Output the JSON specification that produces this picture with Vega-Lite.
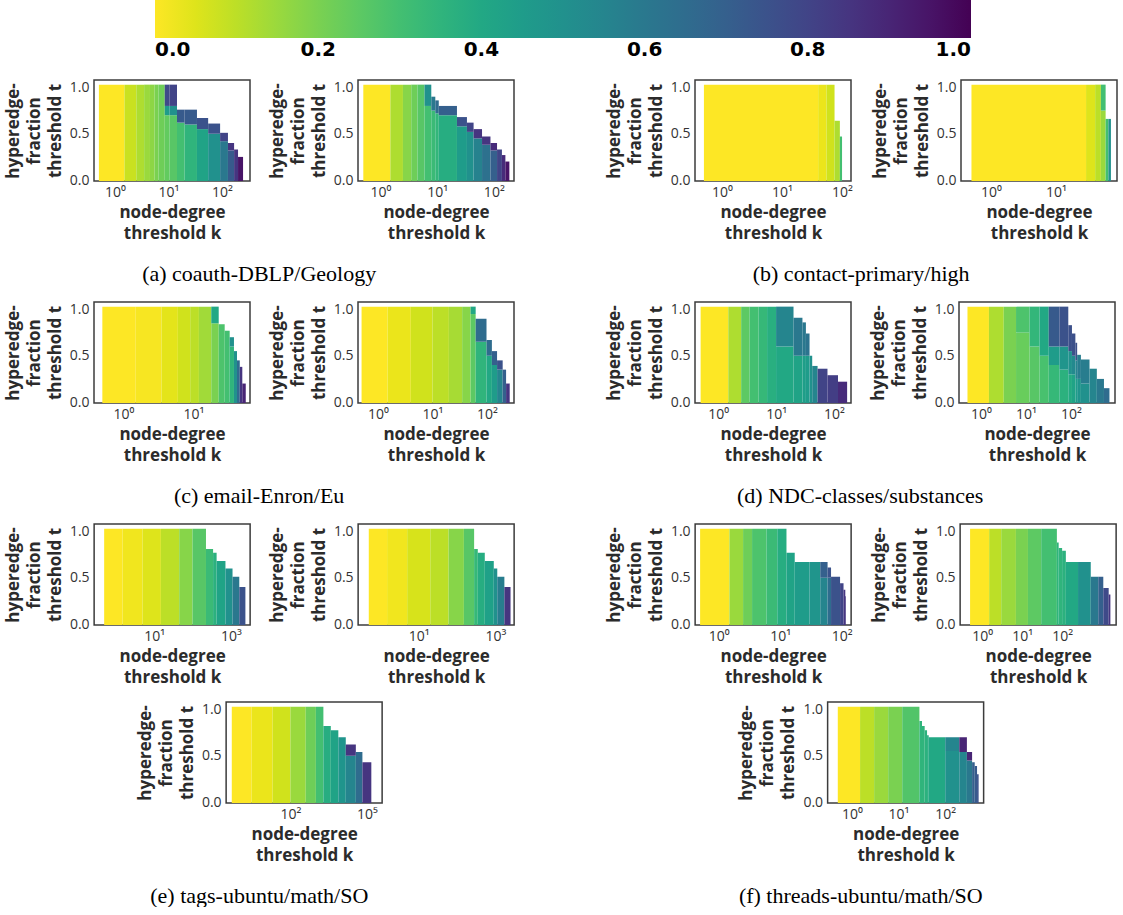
{
"$schema":"https://vega.github.io/schema/vega-lite/v6.json",
"padding":{"left":3,"top":0,"right":0,"bottom":0},
"background":"white",
"datasets":{
"a1":[
{"k0":0.5,"k1":1.5,"t0":-0.01,"t1":1.03,"v":0},
{"k0":1.5,"k1":2.5,"t0":-0.01,"t1":1.03,"v":0.08},
{"k0":2.5,"k1":3.5,"t0":-0.01,"t1":1.03,"v":0.12},
{"k0":3.5,"k1":4.5,"t0":-0.01,"t1":1.03,"v":0.15},
{"k0":4.5,"k1":5.5,"t0":-0.01,"t1":1.03,"v":0.17},
{"k0":5.5,"k1":6.5,"t0":-0.01,"t1":1.03,"v":0.2},
{"k0":6.5,"k1":8.5,"t0":-0.01,"t1":1.03,"v":0.22},
{"k0":8.5,"k1":10.5,"t0":-0.01,"t1":0.7,"v":0.24},
{"k0":8.5,"k1":10.5,"t0":0.7,"t1":0.8,"v":0.45},
{"k0":8.5,"k1":10.5,"t0":0.8,"t1":1.03,"v":0.78},
{"k0":10.5,"k1":14.4,"t0":-0.01,"t1":0.7,"v":0.26},
{"k0":10.5,"k1":14.4,"t0":0.7,"t1":0.8,"v":0.5},
{"k0":10.5,"k1":14.4,"t0":0.8,"t1":1.03,"v":0.8},
{"k0":14.4,"k1":20,"t0":-0.01,"t1":0.62,"v":0.3},
{"k0":14.4,"k1":20,"t0":0.62,"t1":0.76,"v":0.72},
{"k0":20,"k1":34,"t0":-0.01,"t1":0.6,"v":0.35},
{"k0":20,"k1":34,"t0":0.6,"t1":0.76,"v":0.72},
{"k0":34,"k1":55,"t0":-0.01,"t1":0.55,"v":0.42},
{"k0":34,"k1":55,"t0":0.55,"t1":0.67,"v":0.75},
{"k0":55,"k1":92,"t0":-0.01,"t1":0.5,"v":0.5},
{"k0":55,"k1":92,"t0":0.5,"t1":0.61,"v":0.75},
{"k0":92,"k1":129,"t0":-0.01,"t1":0.42,"v":0.6},
{"k0":92,"k1":129,"t0":0.42,"t1":0.51,"v":0.8},
{"k0":129,"k1":168,"t0":-0.01,"t1":0.32,"v":0.72},
{"k0":129,"k1":168,"t0":0.32,"t1":0.4,"v":0.85},
{"k0":168,"k1":199,"t0":-0.01,"t1":0.33,"v":0.85},
{"k0":199,"k1":247,"t0":-0.01,"t1":0.25,"v":0.95}
],
"a2":[
{"k0":0.5,"k1":1.5,"t0":-0.01,"t1":1.03,"v":0},
{"k0":1.5,"k1":2.5,"t0":-0.01,"t1":1.03,"v":0.12},
{"k0":2.5,"k1":3.5,"t0":-0.01,"t1":1.03,"v":0.18},
{"k0":3.5,"k1":4.5,"t0":-0.01,"t1":1.03,"v":0.22},
{"k0":4.5,"k1":6,"t0":-0.01,"t1":1.03,"v":0.26},
{"k0":6,"k1":7.9,"t0":-0.01,"t1":0.8,"v":0.3},
{"k0":6,"k1":7.9,"t0":0.8,"t1":1.03,"v":0.5},
{"k0":7.9,"k1":9.3,"t0":-0.01,"t1":0.75,"v":0.32},
{"k0":7.9,"k1":9.3,"t0":0.75,"t1":0.9,"v":0.6},
{"k0":9.3,"k1":10.7,"t0":-0.01,"t1":0.72,"v":0.34},
{"k0":9.3,"k1":10.7,"t0":0.72,"t1":0.86,"v":0.65},
{"k0":10.7,"k1":22.4,"t0":-0.01,"t1":0.7,"v":0.38},
{"k0":10.7,"k1":22.4,"t0":0.7,"t1":0.8,"v":0.7},
{"k0":22.4,"k1":33.6,"t0":-0.01,"t1":0.58,"v":0.45},
{"k0":22.4,"k1":33.6,"t0":0.58,"t1":0.68,"v":0.75},
{"k0":33.6,"k1":44,"t0":-0.01,"t1":0.52,"v":0.5},
{"k0":33.6,"k1":44,"t0":0.52,"t1":0.62,"v":0.8},
{"k0":44,"k1":62,"t0":-0.01,"t1":0.45,"v":0.56},
{"k0":44,"k1":62,"t0":0.45,"t1":0.55,"v":0.85},
{"k0":62,"k1":87.3,"t0":-0.01,"t1":0.38,"v":0.63},
{"k0":62,"k1":87.3,"t0":0.38,"t1":0.47,"v":0.85},
{"k0":87.3,"k1":114,"t0":-0.01,"t1":0.32,"v":0.7},
{"k0":87.3,"k1":114,"t0":0.32,"t1":0.4,"v":0.88},
{"k0":114,"k1":139,"t0":-0.01,"t1":0.33,"v":0.8},
{"k0":139,"k1":160,"t0":-0.01,"t1":0.27,"v":0.88},
{"k0":160,"k1":188,"t0":-0.01,"t1":0.2,"v":0.95}
],
"b1":[
{"k0":0.5,"k1":40,"t0":-0.01,"t1":1.03,"v":0},
{"k0":40,"k1":55,"t0":-0.01,"t1":1.03,"v":0.03},
{"k0":55,"k1":75,"t0":-0.01,"t1":1.03,"v":0.07},
{"k0":75,"k1":92,"t0":-0.01,"t1":0.64,"v":0.12},
{"k0":92,"k1":100,"t0":-0.01,"t1":0.47,"v":0.3}
],
"b2":[
{"k0":0.5,"k1":29,"t0":-0.01,"t1":1.03,"v":0},
{"k0":29,"k1":40,"t0":-0.01,"t1":1.03,"v":0.05},
{"k0":40,"k1":49,"t0":-0.01,"t1":1.03,"v":0.1},
{"k0":49,"k1":58,"t0":-0.01,"t1":0.75,"v":0.15},
{"k0":49,"k1":58,"t0":0.75,"t1":1.03,"v":0.3},
{"k0":58,"k1":64,"t0":-0.01,"t1":0.66,"v":0.3},
{"k0":64,"k1":70,"t0":-0.01,"t1":0.66,"v":0.5}
],
"c1":[
{"k0":0.5,"k1":1.5,"t0":-0.01,"t1":1.03,"v":0},
{"k0":1.5,"k1":3.5,"t0":-0.01,"t1":1.03,"v":0.01},
{"k0":3.5,"k1":6,"t0":-0.01,"t1":1.03,"v":0.04},
{"k0":6,"k1":9,"t0":-0.01,"t1":1.03,"v":0.07},
{"k0":9,"k1":12,"t0":-0.01,"t1":1.03,"v":0.1},
{"k0":12,"k1":18,"t0":-0.01,"t1":1.03,"v":0.14},
{"k0":18,"k1":23,"t0":-0.01,"t1":0.85,"v":0.2},
{"k0":18,"k1":23,"t0":0.85,"t1":1.03,"v":0.4},
{"k0":23,"k1":28,"t0":-0.01,"t1":0.84,"v":0.28},
{"k0":28,"k1":33,"t0":-0.01,"t1":0.77,"v":0.3},
{"k0":33,"k1":38,"t0":-0.01,"t1":0.6,"v":0.35},
{"k0":33,"k1":38,"t0":0.6,"t1":0.7,"v":0.5},
{"k0":38,"k1":42,"t0":-0.01,"t1":0.55,"v":0.5},
{"k0":42,"k1":46,"t0":-0.01,"t1":0.45,"v":0.65},
{"k0":46,"k1":50,"t0":-0.01,"t1":0.38,"v":0.85},
{"k0":50,"k1":56,"t0":-0.01,"t1":0.2,"v":0.9}
],
"c2":[
{"k0":0.5,"k1":1.5,"t0":-0.01,"t1":1.03,"v":0},
{"k0":1.5,"k1":4,"t0":-0.01,"t1":1.03,"v":0.03},
{"k0":4,"k1":10,"t0":-0.01,"t1":1.03,"v":0.07},
{"k0":10,"k1":20,"t0":-0.01,"t1":1.03,"v":0.1},
{"k0":20,"k1":35,"t0":-0.01,"t1":1.03,"v":0.13},
{"k0":35,"k1":50,"t0":-0.01,"t1":1.03,"v":0.18},
{"k0":50,"k1":62,"t0":-0.01,"t1":0.95,"v":0.25},
{"k0":50,"k1":62,"t0":0.95,"t1":1.03,"v":0.4},
{"k0":62,"k1":98,"t0":-0.01,"t1":0.65,"v":0.35},
{"k0":62,"k1":98,"t0":0.65,"t1":0.9,"v":0.65},
{"k0":98,"k1":123,"t0":-0.01,"t1":0.5,"v":0.4},
{"k0":98,"k1":123,"t0":0.5,"t1":0.67,"v":0.65},
{"k0":123,"k1":153,"t0":-0.01,"t1":0.4,"v":0.45},
{"k0":123,"k1":153,"t0":0.4,"t1":0.55,"v":0.7},
{"k0":153,"k1":194,"t0":-0.01,"t1":0.35,"v":0.55},
{"k0":153,"k1":194,"t0":0.35,"t1":0.45,"v":0.75},
{"k0":194,"k1":224,"t0":-0.01,"t1":0.35,"v":0.7},
{"k0":224,"k1":261,"t0":-0.01,"t1":0.2,"v":0.85}
],
"d1":[
{"k0":0.5,"k1":1.5,"t0":-0.01,"t1":1.03,"v":0},
{"k0":1.5,"k1":2.5,"t0":-0.01,"t1":1.03,"v":0.12},
{"k0":2.5,"k1":3.5,"t0":-0.01,"t1":1.03,"v":0.25},
{"k0":3.5,"k1":5,"t0":-0.01,"t1":1.03,"v":0.3},
{"k0":5,"k1":7,"t0":-0.01,"t1":1.03,"v":0.33},
{"k0":7,"k1":10,"t0":-0.01,"t1":1.03,"v":0.37},
{"k0":10,"k1":20,"t0":-0.01,"t1":0.6,"v":0.4},
{"k0":10,"k1":20,"t0":0.6,"t1":1.03,"v":0.55},
{"k0":20,"k1":28.5,"t0":-0.01,"t1":0.5,"v":0.42},
{"k0":20,"k1":28.5,"t0":0.5,"t1":0.91,"v":0.6},
{"k0":28.5,"k1":32.7,"t0":-0.01,"t1":0.5,"v":0.44},
{"k0":28.5,"k1":32.7,"t0":0.5,"t1":0.86,"v":0.6},
{"k0":32.7,"k1":37.8,"t0":-0.01,"t1":0.5,"v":0.45},
{"k0":32.7,"k1":37.8,"t0":0.5,"t1":0.74,"v":0.62},
{"k0":37.8,"k1":42,"t0":-0.01,"t1":0.5,"v":0.5},
{"k0":42,"k1":52,"t0":-0.01,"t1":0.39,"v":0.55},
{"k0":52,"k1":77,"t0":-0.01,"t1":0.36,"v":0.8},
{"k0":77,"k1":117,"t0":-0.01,"t1":0.29,"v":0.82},
{"k0":117,"k1":168,"t0":-0.01,"t1":0.22,"v":0.88}
],
"d2":[
{"k0":0.5,"k1":1.5,"t0":-0.01,"t1":1.03,"v":0},
{"k0":1.5,"k1":3.2,"t0":-0.01,"t1":1.03,"v":0.12},
{"k0":3.2,"k1":6,"t0":-0.01,"t1":1.03,"v":0.2},
{"k0":6,"k1":12,"t0":-0.01,"t1":0.75,"v":0.23},
{"k0":6,"k1":12,"t0":0.75,"t1":1.03,"v":0.28},
{"k0":12,"k1":20,"t0":-0.01,"t1":0.6,"v":0.26},
{"k0":12,"k1":20,"t0":0.6,"t1":1.03,"v":0.34},
{"k0":20,"k1":32,"t0":-0.01,"t1":0.5,"v":0.29},
{"k0":20,"k1":32,"t0":0.5,"t1":1.03,"v":0.4},
{"k0":32,"k1":55,"t0":-0.01,"t1":0.4,"v":0.33},
{"k0":32,"k1":55,"t0":0.4,"t1":0.6,"v":0.45},
{"k0":32,"k1":55,"t0":0.6,"t1":1.03,"v":0.72},
{"k0":55,"k1":87,"t0":-0.01,"t1":0.35,"v":0.36},
{"k0":55,"k1":87,"t0":0.35,"t1":0.6,"v":0.48},
{"k0":55,"k1":87,"t0":0.6,"t1":1.03,"v":0.75},
{"k0":87,"k1":105,"t0":-0.01,"t1":0.3,"v":0.39},
{"k0":87,"k1":105,"t0":0.3,"t1":0.55,"v":0.5},
{"k0":87,"k1":105,"t0":0.55,"t1":0.83,"v":0.76},
{"k0":105,"k1":125,"t0":-0.01,"t1":0.3,"v":0.42},
{"k0":105,"k1":125,"t0":0.3,"t1":0.5,"v":0.53},
{"k0":105,"k1":125,"t0":0.5,"t1":0.74,"v":0.76},
{"k0":125,"k1":137,"t0":-0.01,"t1":0.25,"v":0.45},
{"k0":125,"k1":137,"t0":0.25,"t1":0.45,"v":0.55},
{"k0":125,"k1":137,"t0":0.45,"t1":0.64,"v":0.76},
{"k0":137,"k1":166,"t0":-0.01,"t1":0.25,"v":0.48},
{"k0":137,"k1":166,"t0":0.25,"t1":0.51,"v":0.58},
{"k0":166,"k1":258,"t0":-0.01,"t1":0.2,"v":0.5},
{"k0":166,"k1":258,"t0":0.2,"t1":0.46,"v":0.58},
{"k0":258,"k1":375,"t0":-0.01,"t1":0.36,"v":0.55},
{"k0":375,"k1":540,"t0":-0.01,"t1":0.25,"v":0.6},
{"k0":540,"k1":715,"t0":-0.01,"t1":0.15,"v":0.65}
],
"e1":[
{"k0":0.5,"k1":1.5,"t0":-0.01,"t1":1.03,"v":0},
{"k0":1.5,"k1":5,"t0":-0.01,"t1":1.03,"v":0.02},
{"k0":5,"k1":15,"t0":-0.01,"t1":1.03,"v":0.05},
{"k0":15,"k1":45,"t0":-0.01,"t1":1.03,"v":0.1},
{"k0":45,"k1":100,"t0":-0.01,"t1":1.03,"v":0.18},
{"k0":100,"k1":224,"t0":-0.01,"t1":1.03,"v":0.26},
{"k0":224,"k1":343,"t0":-0.01,"t1":0.81,"v":0.32},
{"k0":343,"k1":424,"t0":-0.01,"t1":0.77,"v":0.36},
{"k0":424,"k1":720,"t0":-0.01,"t1":0.68,"v":0.42},
{"k0":720,"k1":1100,"t0":-0.01,"t1":0.6,"v":0.5},
{"k0":1100,"k1":1650,"t0":-0.01,"t1":0.51,"v":0.6},
{"k0":1650,"k1":2380,"t0":-0.01,"t1":0.4,"v":0.75}
],
"e2":[
{"k0":0.5,"k1":1.5,"t0":-0.01,"t1":1.03,"v":0},
{"k0":1.5,"k1":5,"t0":-0.01,"t1":1.03,"v":0.02},
{"k0":5,"k1":20,"t0":-0.01,"t1":1.03,"v":0.06},
{"k0":20,"k1":60,"t0":-0.01,"t1":1.03,"v":0.1},
{"k0":60,"k1":150,"t0":-0.01,"t1":1.03,"v":0.18},
{"k0":150,"k1":277,"t0":-0.01,"t1":1.03,"v":0.26},
{"k0":277,"k1":345,"t0":-0.01,"t1":0.81,"v":0.33},
{"k0":345,"k1":525,"t0":-0.01,"t1":0.77,"v":0.38},
{"k0":525,"k1":900,"t0":-0.01,"t1":0.68,"v":0.43},
{"k0":900,"k1":1110,"t0":-0.01,"t1":0.6,"v":0.5},
{"k0":1110,"k1":1700,"t0":-0.01,"t1":0.51,"v":0.58},
{"k0":1700,"k1":2460,"t0":-0.01,"t1":0.4,"v":0.85}
],
"e3":[
{"k0":0.5,"k1":3,"t0":-0.01,"t1":1.03,"v":0},
{"k0":3,"k1":20,"t0":-0.01,"t1":1.03,"v":0.03},
{"k0":20,"k1":100,"t0":-0.01,"t1":1.03,"v":0.07},
{"k0":100,"k1":400,"t0":-0.01,"t1":1.03,"v":0.15},
{"k0":400,"k1":1000,"t0":-0.01,"t1":1.03,"v":0.22},
{"k0":1000,"k1":1970,"t0":-0.01,"t1":1.03,"v":0.3},
{"k0":1970,"k1":3850,"t0":-0.01,"t1":0.82,"v":0.38},
{"k0":3850,"k1":7600,"t0":-0.01,"t1":0.775,"v":0.42},
{"k0":7600,"k1":14900,"t0":-0.01,"t1":0.7,"v":0.48},
{"k0":14900,"k1":37000,"t0":-0.01,"t1":0.5,"v":0.55},
{"k0":14900,"k1":37000,"t0":0.5,"t1":0.62,"v":0.85},
{"k0":37000,"k1":67000,"t0":-0.01,"t1":0.54,"v":0.65},
{"k0":67000,"k1":150000,"t0":-0.01,"t1":0.43,"v":0.85}
],
"f1":[
{"k0":0.5,"k1":1.5,"t0":-0.01,"t1":1.03,"v":0},
{"k0":1.5,"k1":2.5,"t0":-0.01,"t1":1.03,"v":0.15},
{"k0":2.5,"k1":3.5,"t0":-0.01,"t1":1.03,"v":0.22},
{"k0":3.5,"k1":6,"t0":-0.01,"t1":1.03,"v":0.28},
{"k0":6,"k1":9,"t0":-0.01,"t1":1.03,"v":0.32},
{"k0":9,"k1":12.7,"t0":-0.01,"t1":1.03,"v":0.38},
{"k0":12.7,"k1":17.3,"t0":-0.01,"t1":0.77,"v":0.42},
{"k0":17.3,"k1":30,"t0":-0.01,"t1":0.67,"v":0.45},
{"k0":30,"k1":45,"t0":-0.01,"t1":0.67,"v":0.48},
{"k0":45,"k1":59.2,"t0":-0.01,"t1":0.5,"v":0.55},
{"k0":45,"k1":59.2,"t0":0.5,"t1":0.67,"v":0.7},
{"k0":59.2,"k1":67.4,"t0":-0.01,"t1":0.5,"v":0.65},
{"k0":59.2,"k1":67.4,"t0":0.5,"t1":0.61,"v":0.75},
{"k0":67.4,"k1":94.5,"t0":-0.01,"t1":0.51,"v":0.75},
{"k0":94.5,"k1":107.6,"t0":-0.01,"t1":0.44,"v":0.8},
{"k0":107.6,"k1":115,"t0":-0.01,"t1":0.37,"v":0.85},
{"k0":115,"k1":118,"t0":-0.01,"t1":0.3,"v":0.85}
],
"f2":[
{"k0":0.5,"k1":1.5,"t0":-0.01,"t1":1.03,"v":0},
{"k0":1.5,"k1":3,"t0":-0.01,"t1":1.03,"v":0.1},
{"k0":3,"k1":7,"t0":-0.01,"t1":1.03,"v":0.15},
{"k0":7,"k1":14,"t0":-0.01,"t1":1.03,"v":0.2},
{"k0":14,"k1":30,"t0":-0.01,"t1":1.03,"v":0.25},
{"k0":30,"k1":74,"t0":-0.01,"t1":1.03,"v":0.3},
{"k0":74,"k1":82,"t0":-0.01,"t1":0.88,"v":0.35},
{"k0":82,"k1":100,"t0":-0.01,"t1":0.82,"v":0.35},
{"k0":100,"k1":124,"t0":-0.01,"t1":0.79,"v":0.36},
{"k0":124,"k1":250,"t0":-0.01,"t1":0.67,"v":0.4},
{"k0":250,"k1":520,"t0":-0.01,"t1":0.67,"v":0.5},
{"k0":520,"k1":800,"t0":-0.01,"t1":0.51,"v":0.6},
{"k0":800,"k1":1070,"t0":-0.01,"t1":0.51,"v":0.7},
{"k0":1070,"k1":1460,"t0":-0.01,"t1":0.39,"v":0.78},
{"k0":1460,"k1":1610,"t0":-0.01,"t1":0.32,"v":0.85}
],
"f3":[
{"k0":0.5,"k1":1.5,"t0":-0.01,"t1":1.03,"v":0},
{"k0":1.5,"k1":3,"t0":-0.01,"t1":1.03,"v":0.1},
{"k0":3,"k1":6,"t0":-0.01,"t1":1.03,"v":0.15},
{"k0":6,"k1":12,"t0":-0.01,"t1":1.03,"v":0.2},
{"k0":12,"k1":28,"t0":-0.01,"t1":1.03,"v":0.27},
{"k0":28,"k1":31.8,"t0":-0.01,"t1":0.875,"v":0.35},
{"k0":31.8,"k1":36.3,"t0":-0.01,"t1":0.82,"v":0.35},
{"k0":36.3,"k1":40.8,"t0":-0.01,"t1":0.775,"v":0.36},
{"k0":40.8,"k1":44.3,"t0":-0.01,"t1":0.72,"v":0.37},
{"k0":44.3,"k1":100,"t0":-0.01,"t1":0.7,"v":0.4},
{"k0":100,"k1":200,"t0":-0.01,"t1":0.55,"v":0.5},
{"k0":100,"k1":200,"t0":0.55,"t1":0.7,"v":0.55},
{"k0":200,"k1":291,"t0":-0.01,"t1":0.54,"v":0.55},
{"k0":200,"k1":291,"t0":0.54,"t1":0.7,"v":0.9},
{"k0":291,"k1":376,"t0":-0.01,"t1":0.45,"v":0.6},
{"k0":291,"k1":376,"t0":0.45,"t1":0.54,"v":0.9},
{"k0":376,"k1":428,"t0":-0.01,"t1":0.43,"v":0.7},
{"k0":428,"k1":480,"t0":-0.01,"t1":0.39,"v":0.72},
{"k0":480,"k1":519,"t0":-0.01,"t1":0.3,"v":0.75}
]
},
"vconcat":[
{"hconcat":[
 {"hconcat":[
  {"width":156,"height":101,"data":{"name":"a1"},"mark":{"type":"rect","clip":true},"encoding":{"x":{"field":"k0","type":"quantitative","title":["node-degree","threshold k"],"scale":{"type":"log","domain":[0.405,333],"nice":false},"axis":{"values":[1,10,100],"labelExpr":"datum.value < 5 ? '10⁰' : datum.value < 50 ? '10¹' : datum.value < 500 ? '10²' : datum.value < 5000 ? '10³' : '10⁵'"}},"x2":{"field":"k1"},"y":{"field":"t0","type":"quantitative","title":["hyperedge-","fraction","threshold t"],"scale":{"domain":[-0.01,1.08],"nice":false,"zero":false},"axis":{"values":[0,0.5,1],"format":".1f"}},"y2":{"field":"t1"},"color":{"field":"v","type":"quantitative","title":null,"scale":{"scheme":"viridis","reverse":true,"domain":[0,1]}}}},
  {"width":156,"height":101,"data":{"name":"a2"},"mark":{"type":"rect","clip":true},"encoding":{"x":{"field":"k0","type":"quantitative","title":["node-degree","threshold k"],"scale":{"type":"log","domain":[0.403,227],"nice":false},"axis":{"values":[1,10,100],"labelExpr":"datum.value < 5 ? '10⁰' : datum.value < 50 ? '10¹' : datum.value < 500 ? '10²' : datum.value < 5000 ? '10³' : '10⁵'"}},"x2":{"field":"k1"},"y":{"field":"t0","type":"quantitative","title":["hyperedge-","fraction","threshold t"],"scale":{"domain":[-0.01,1.08],"nice":false,"zero":false},"axis":{"values":[0,0.5,1],"format":".1f"}},"y2":{"field":"t1"},"color":{"field":"v","type":"quantitative","title":null,"scale":{"scheme":"viridis","reverse":true,"domain":[0,1]}}}}
 ],"spacing":16,"title":{"text":"(a) coauth-DBLP/Geology","orient":"bottom","anchor":"middle"}},
 {"hconcat":[
  {"width":156,"height":101,"data":{"name":"b1"},"mark":{"type":"rect","clip":true},"encoding":{"x":{"field":"k0","type":"quantitative","title":["node-degree","threshold k"],"scale":{"type":"log","domain":[0.355,141],"nice":false},"axis":{"values":[1,10,100],"labelExpr":"datum.value < 5 ? '10⁰' : datum.value < 50 ? '10¹' : datum.value < 500 ? '10²' : datum.value < 5000 ? '10³' : '10⁵'"}},"x2":{"field":"k1"},"y":{"field":"t0","type":"quantitative","title":["hyperedge-","fraction","threshold t"],"scale":{"domain":[-0.01,1.08],"nice":false,"zero":false},"axis":{"values":[0,0.5,1],"format":".1f"}},"y2":{"field":"t1"},"color":{"field":"v","type":"quantitative","title":null,"scale":{"scheme":"viridis","reverse":true,"domain":[0,1]}}}},
  {"width":156,"height":101,"data":{"name":"b2"},"mark":{"type":"rect","clip":true},"encoding":{"x":{"field":"k0","type":"quantitative","title":["node-degree","threshold k"],"scale":{"type":"log","domain":[0.345,86.8],"nice":false},"axis":{"values":[1,10],"labelExpr":"datum.value < 5 ? '10⁰' : datum.value < 50 ? '10¹' : datum.value < 500 ? '10²' : datum.value < 5000 ? '10³' : '10⁵'"}},"x2":{"field":"k1"},"y":{"field":"t0","type":"quantitative","title":["hyperedge-","fraction","threshold t"],"scale":{"domain":[-0.01,1.08],"nice":false,"zero":false},"axis":{"values":[0,0.5,1],"format":".1f"}},"y2":{"field":"t1"},"color":{"field":"v","type":"quantitative","title":null,"scale":{"scheme":"viridis","reverse":true,"domain":[0,1]}}}}
 ],"spacing":16,"title":{"text":"(b) contact-primary/high","orient":"bottom","anchor":"middle"}}
],"spacing":89},
{"hconcat":[
 {"hconcat":[
  {"width":156,"height":101,"data":{"name":"c1"},"mark":{"type":"rect","clip":true},"encoding":{"x":{"field":"k0","type":"quantitative","title":["node-degree","threshold k"],"scale":{"type":"log","domain":[0.38,64.4],"nice":false},"axis":{"values":[1,10],"labelExpr":"datum.value < 5 ? '10⁰' : datum.value < 50 ? '10¹' : datum.value < 500 ? '10²' : datum.value < 5000 ? '10³' : '10⁵'"}},"x2":{"field":"k1"},"y":{"field":"t0","type":"quantitative","title":["hyperedge-","fraction","threshold t"],"scale":{"domain":[-0.01,1.08],"nice":false,"zero":false},"axis":{"values":[0,0.5,1],"format":".1f"}},"y2":{"field":"t1"},"color":{"field":"v","type":"quantitative","title":null,"scale":{"scheme":"viridis","reverse":true,"domain":[0,1]}}}},
  {"width":156,"height":101,"data":{"name":"c2"},"mark":{"type":"rect","clip":true},"encoding":{"x":{"field":"k0","type":"quantitative","title":["node-degree","threshold k"],"scale":{"type":"log","domain":[0.43,313],"nice":false},"axis":{"values":[1,10,100],"labelExpr":"datum.value < 5 ? '10⁰' : datum.value < 50 ? '10¹' : datum.value < 500 ? '10²' : datum.value < 5000 ? '10³' : '10⁵'"}},"x2":{"field":"k1"},"y":{"field":"t0","type":"quantitative","title":["hyperedge-","fraction","threshold t"],"scale":{"domain":[-0.01,1.08],"nice":false,"zero":false},"axis":{"values":[0,0.5,1],"format":".1f"}},"y2":{"field":"t1"},"color":{"field":"v","type":"quantitative","title":null,"scale":{"scheme":"viridis","reverse":true,"domain":[0,1]}}}}
 ],"spacing":16,"title":{"text":"(c) email-Enron/Eu","orient":"bottom","anchor":"middle"}},
 {"hconcat":[
  {"width":156,"height":101,"data":{"name":"d1"},"mark":{"type":"rect","clip":true},"encoding":{"x":{"field":"k0","type":"quantitative","title":["node-degree","threshold k"],"scale":{"type":"log","domain":[0.4,196],"nice":false},"axis":{"values":[1,10,100],"labelExpr":"datum.value < 5 ? '10⁰' : datum.value < 50 ? '10¹' : datum.value < 500 ? '10²' : datum.value < 5000 ? '10³' : '10⁵'"}},"x2":{"field":"k1"},"y":{"field":"t0","type":"quantitative","title":["hyperedge-","fraction","threshold t"],"scale":{"domain":[-0.01,1.08],"nice":false,"zero":false},"axis":{"values":[0,0.5,1],"format":".1f"}},"y2":{"field":"t1"},"color":{"field":"v","type":"quantitative","title":null,"scale":{"scheme":"viridis","reverse":true,"domain":[0,1]}}}},
  {"width":156,"height":101,"data":{"name":"d2"},"mark":{"type":"rect","clip":true},"encoding":{"x":{"field":"k0","type":"quantitative","title":["node-degree","threshold k"],"scale":{"type":"log","domain":[0.324,950],"nice":false},"axis":{"values":[1,10,100],"labelExpr":"datum.value < 5 ? '10⁰' : datum.value < 50 ? '10¹' : datum.value < 500 ? '10²' : datum.value < 5000 ? '10³' : '10⁵'"}},"x2":{"field":"k1"},"y":{"field":"t0","type":"quantitative","title":["hyperedge-","fraction","threshold t"],"scale":{"domain":[-0.01,1.08],"nice":false,"zero":false},"axis":{"values":[0,0.5,1],"format":".1f"}},"y2":{"field":"t1"},"color":{"field":"v","type":"quantitative","title":null,"scale":{"scheme":"viridis","reverse":true,"domain":[0,1]}}}}
 ],"spacing":16,"title":{"text":"(d) NDC-classes/substances","orient":"bottom","anchor":"middle"}}
],"spacing":89},
{"hconcat":[
 {"vconcat":[
  {"hconcat":[
   {"width":156,"height":101,"data":{"name":"e1"},"mark":{"type":"rect","clip":true},"encoding":{"x":{"field":"k0","type":"quantitative","title":["node-degree","threshold k"],"scale":{"type":"log","domain":[0.274,3160],"nice":false},"axis":{"values":[10,1000],"labelExpr":"datum.value < 5 ? '10⁰' : datum.value < 50 ? '10¹' : datum.value < 500 ? '10²' : datum.value < 5000 ? '10³' : '10⁵'"}},"x2":{"field":"k1"},"y":{"field":"t0","type":"quantitative","title":["hyperedge-","fraction","threshold t"],"scale":{"domain":[-0.01,1.08],"nice":false,"zero":false},"axis":{"values":[0,0.5,1],"format":".1f"}},"y2":{"field":"t1"},"color":{"field":"v","type":"quantitative","title":null,"scale":{"scheme":"viridis","reverse":true,"domain":[0,1]}}}},
   {"width":156,"height":101,"data":{"name":"e2"},"mark":{"type":"rect","clip":true},"encoding":{"x":{"field":"k0","type":"quantitative","title":["node-degree","threshold k"],"scale":{"type":"log","domain":[0.264,3050],"nice":false},"axis":{"values":[10,1000],"labelExpr":"datum.value < 5 ? '10⁰' : datum.value < 50 ? '10¹' : datum.value < 500 ? '10²' : datum.value < 5000 ? '10³' : '10⁵'"}},"x2":{"field":"k1"},"y":{"field":"t0","type":"quantitative","title":["hyperedge-","fraction","threshold t"],"scale":{"domain":[-0.01,1.08],"nice":false,"zero":false},"axis":{"values":[0,0.5,1],"format":".1f"}},"y2":{"field":"t1"},"color":{"field":"v","type":"quantitative","title":null,"scale":{"scheme":"viridis","reverse":true,"domain":[0,1]}}}}
  ],"spacing":16},
  {"width":156,"height":101,"data":{"name":"e3"},"mark":{"type":"rect","clip":true},"encoding":{"x":{"field":"k0","type":"quantitative","title":["node-degree","threshold k"],"scale":{"type":"log","domain":[0.3,398000],"nice":false},"axis":{"values":[100,100000],"labelExpr":"datum.value < 5 ? '10⁰' : datum.value < 50 ? '10¹' : datum.value < 500 ? '10²' : datum.value < 5000 ? '10³' : '10⁵'"}},"x2":{"field":"k1"},"y":{"field":"t0","type":"quantitative","title":["hyperedge-","fraction","threshold t"],"scale":{"domain":[-0.01,1.08],"nice":false,"zero":false},"axis":{"values":[0,0.5,1],"format":".1f"}},"y2":{"field":"t1"},"color":{"field":"v","type":"quantitative","title":null,"scale":{"scheme":"viridis","reverse":true,"domain":[0,1]}}}}
 ],"spacing":15,"center":true,"title":{"text":"(e) tags-ubuntu/math/SO","orient":"bottom","anchor":"middle"}},
 {"vconcat":[
  {"hconcat":[
   {"width":156,"height":101,"data":{"name":"f1"},"mark":{"type":"rect","clip":true},"encoding":{"x":{"field":"k0","type":"quantitative","title":["node-degree","threshold k"],"scale":{"type":"log","domain":[0.415,143],"nice":false},"axis":{"values":[1,10,100],"labelExpr":"datum.value < 5 ? '10⁰' : datum.value < 50 ? '10¹' : datum.value < 500 ? '10²' : datum.value < 5000 ? '10³' : '10⁵'"}},"x2":{"field":"k1"},"y":{"field":"t0","type":"quantitative","title":["hyperedge-","fraction","threshold t"],"scale":{"domain":[-0.01,1.08],"nice":false,"zero":false},"axis":{"values":[0,0.5,1],"format":".1f"}},"y2":{"field":"t1"},"color":{"field":"v","type":"quantitative","title":null,"scale":{"scheme":"viridis","reverse":true,"domain":[0,1]}}}},
   {"width":156,"height":101,"data":{"name":"f2"},"mark":{"type":"rect","clip":true},"encoding":{"x":{"field":"k0","type":"quantitative","title":["node-degree","threshold k"],"scale":{"type":"log","domain":[0.282,2240],"nice":false},"axis":{"values":[1,10,100],"labelExpr":"datum.value < 5 ? '10⁰' : datum.value < 50 ? '10¹' : datum.value < 500 ? '10²' : datum.value < 5000 ? '10³' : '10⁵'"}},"x2":{"field":"k1"},"y":{"field":"t0","type":"quantitative","title":["hyperedge-","fraction","threshold t"],"scale":{"domain":[-0.01,1.08],"nice":false,"zero":false},"axis":{"values":[0,0.5,1],"format":".1f"}},"y2":{"field":"t1"},"color":{"field":"v","type":"quantitative","title":null,"scale":{"scheme":"viridis","reverse":true,"domain":[0,1]}}}}
  ],"spacing":16},
  {"width":156,"height":101,"data":{"name":"f3"},"mark":{"type":"rect","clip":true},"encoding":{"x":{"field":"k0","type":"quantitative","title":["node-degree","threshold k"],"scale":{"type":"log","domain":[0.303,664],"nice":false},"axis":{"values":[1,10,100],"labelExpr":"datum.value < 5 ? '10⁰' : datum.value < 50 ? '10¹' : datum.value < 500 ? '10²' : datum.value < 5000 ? '10³' : '10⁵'"}},"x2":{"field":"k1"},"y":{"field":"t0","type":"quantitative","title":["hyperedge-","fraction","threshold t"],"scale":{"domain":[-0.01,1.08],"nice":false,"zero":false},"axis":{"values":[0,0.5,1],"format":".1f"}},"y2":{"field":"t1"},"color":{"field":"v","type":"quantitative","title":null,"scale":{"scheme":"viridis","reverse":true,"domain":[0,1]}}}}
 ],"spacing":15,"center":true,"title":{"text":"(f) threads-ubuntu/math/SO","orient":"bottom","anchor":"middle"}}
],"spacing":89}
],
"spacing":16,
"resolve":{"scale":{"color":"shared"}},
"config":{
 "view":{"stroke":"#3c3c3c","strokeWidth":1.5},
 "axis":{"grid":false,"domain":false,"ticks":false,"labelFont":"Open Sans","labelFontSize":14,"labelColor":"#333333","titleFont":"Open Sans","titleFontSize":17,"titleFontWeight":"bold","titleColor":"#2b2b2b","titleLineHeight":21},
 "axisY":{"labelPadding":5,"titlePadding":5},
 "axisX":{"labelPadding":4,"titlePadding":5},
 "legend":{"orient":"none","legendX":61,"legendY":-80,"direction":"horizontal","gradientLength":816,"gradientThickness":38,"gradientStrokeWidth":0,"labelFont":"DejaVu Sans","labelFontSize":20,"labelFontWeight":"bold","labelColor":"#000000","labelOffset":16,"tickCount":5,"padding":0},
 "title":{"font":"Liberation Serif","fontSize":22,"fontWeight":"normal","color":"#000000","offset":22}
}
}
